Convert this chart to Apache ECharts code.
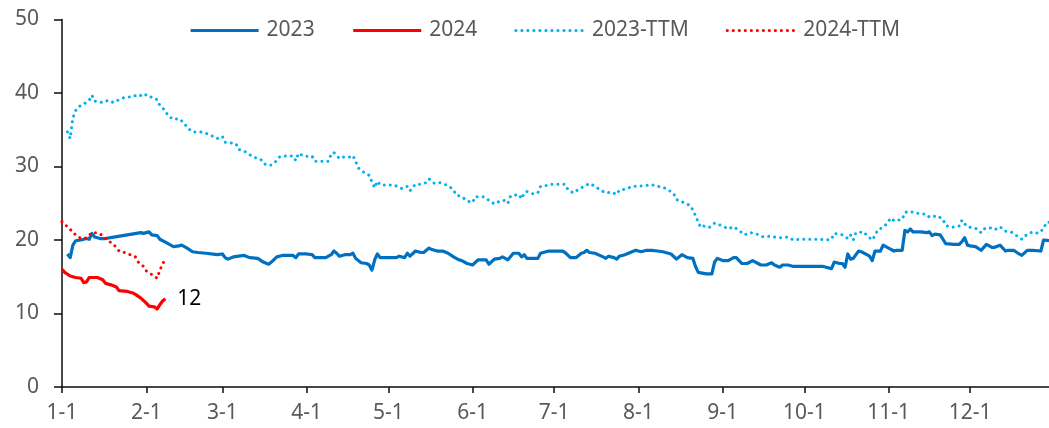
<!DOCTYPE html>
<html>
<head>
<meta charset="utf-8">
<title>PE 2023 vs 2024</title>
<script src="https://cdn.jsdelivr.net/npm/echarts@6/dist/echarts.min.js"></script>
<style>
  html, body { margin: 0; padding: 0; background: #fff; }
  #chart { width: 1049px; height: 428px; }
</style>
</head>
<body>
<div id="chart"></div>
<script>
// Day index counted from Jan 1 (0 = 1-1), value = PE multiple
const monthStarts = [0, 31, 59, 90, 120, 151, 181, 212, 243, 273, 304, 334];
const monthLabels = ['1-1', '2-1', '3-1', '4-1', '5-1', '6-1', '7-1', '8-1', '9-1', '10-1', '11-1', '12-1'];
const yTicks = [0, 10, 20, 30, 40, 50];

const pe2023 = [
  [2,18.1],[3,17.6],[4,19.3],[5,19.9],[7,20.0],[9,20.2],[10,20.1],[11,20.9],[12,20.4],[14,20.2],
  [16,20.2],[19,20.4],[24,20.7],[29,21.0],[30,20.9],[31,21.0],[32,21.1],[33,20.7],[35,20.6],[36,20.1],
  [38,19.7],[40,19.3],[41,19.1],[43,19.2],[44,19.3],[46,18.9],[48,18.4],[50,18.3],[53,18.2],[57,18.0],
  [59,18.1],[60,17.6],[61,17.4],[63,17.7],[65,17.8],[67,17.9],[69,17.6],[72,17.5],[74,17.0],[76,16.7],
  [77,17.0],[79,17.7],[81,17.9],[82,17.9],[85,17.9],[86,17.6],[87,18.1],[90,18.1],[92,18.0],[93,17.6],
  [97,17.6],[99,18.0],[100,18.5],[101,18.2],[102,17.8],[104,18.0],[106,18.0],[107,18.2],[108,17.5],[110,16.9],
  [112,16.8],[113,16.6],[114,15.9],[115,17.3],[116,18.1],[117,17.6],[120,17.6],[123,17.6],[124,17.8],[126,17.6],
  [127,18.2],[128,17.8],[130,18.5],[132,18.3],[133,18.3],[135,18.9],[136,18.7],[138,18.5],[140,18.5],[142,18.2],
  [144,17.7],[146,17.3],[147,17.2],[149,16.8],[151,16.6],[153,17.3],[156,17.3],[157,16.7],[159,17.4],[161,17.5],
  [162,17.7],[164,17.3],[166,18.2],[168,18.2],[169,17.7],[170,18.0],[171,17.5],[175,17.5],[176,18.2],[177,18.3],
  [179,18.5],[182,18.5],[184,18.5],[185,18.3],[187,17.6],[189,17.6],[191,18.2],[192,18.3],[193,18.6],[194,18.3],
  [196,18.2],[199,17.7],[200,17.5],[201,17.8],[203,17.6],[204,17.4],[205,17.8],[207,18.0],[209,18.3],[211,18.6],
  [213,18.4],[215,18.6],[217,18.6],[219,18.5],[221,18.4],[223,18.2],[224,18.1],[226,17.4],[228,18.0],[230,17.6],
  [232,17.5],[233,16.4],[234,15.6],[237,15.4],[239,15.4],[240,17.0],[241,17.5],[243,17.2],[245,17.2],[247,17.6],
  [248,17.6],[250,16.8],[252,16.8],[254,17.2],[257,16.6],[259,16.6],[261,16.9],[262,16.6],[264,16.3],[265,16.6],
  [267,16.6],[269,16.4],[280,16.4],[281,16.3],[283,16.1],[284,17.0],[286,16.8],[287,16.8],[288,16.3],[289,18.1],
  [290,17.4],[291,17.5],[293,18.5],[294,18.4],[296,18.0],[297,17.8],[298,17.2],[299,18.5],[301,18.5],[302,19.3],
  [304,18.9],[306,18.5],[307,18.6],[309,18.6],[310,21.3],[311,21.1],[312,21.5],[313,21.1],[316,21.1],[318,21.0],
  [319,21.1],[320,20.6],[321,20.8],[323,20.7],[324,20.1],[325,19.5],[328,19.4],[330,19.4],[331,19.8],[332,20.3],
  [333,19.3],[334,19.2],[336,19.1],[338,18.6],[340,19.4],[342,19.0],[343,19.0],[345,19.3],[347,18.5],[348,18.6],
  [350,18.6],[352,18.1],[353,17.9],[355,18.6],[357,18.6],[360,18.5],[361,20.0],[363,19.9]
];

const pe2024 = [
  [0,16.0],[1,15.6],[3,15.1],[5,14.9],[7,14.8],[8,14.2],[9,14.3],[10,14.9],[13,14.9],[15,14.6],
  [16,14.1],[18,13.9],[20,13.6],[21,13.1],[24,13.0],[26,12.8],[27,12.6],[29,12.1],[31,11.4],[32,11.0],
  [34,10.9],[35,10.6],[36,11.2],[37,11.7],[38,12.0]
];

const ttm2023 = [
  [2,34.7],[3,33.8],[4,36.6],[5,37.6],[6,38.1],[8,38.5],[10,39.0],[11,39.7],[12,38.9],[15,38.7],
  [17,39.0],[19,38.7],[21,39.1],[23,39.4],[26,39.5],[28,39.8],[30,39.5],[31,39.8],[33,39.4],[35,39.1],
  [36,38.3],[38,37.6],[39,36.9],[41,36.4],[43,36.5],[45,35.9],[46,35.3],[48,34.7],[51,34.7],[53,34.5],
  [55,34.2],[57,33.8],[59,34.1],[60,33.3],[62,33.2],[64,33.1],[65,32.3],[67,32.1],[69,31.6],[71,31.2],
  [73,31.0],[75,30.2],[77,30.2],[79,30.8],[80,31.3],[83,31.5],[85,31.4],[86,30.8],[87,31.8],[89,31.4],
  [92,31.4],[93,30.7],[96,30.7],[98,30.7],[99,31.7],[100,31.9],[102,31.1],[103,31.3],[106,31.3],[107,31.5],
  [108,30.7],[109,29.8],[111,29.2],[113,28.8],[114,27.9],[115,27.1],[116,28.0],[117,27.5],[120,27.5],[122,27.5],
  [125,27.0],[127,27.3],[128,26.7],[130,27.6],[132,27.6],[134,27.8],[135,28.3],[137,27.7],[139,27.8],[142,27.4],
  [144,26.8],[145,26.1],[147,25.9],[149,25.3],[151,25.1],[152,25.9],[155,25.9],[157,25.4],[159,24.9],[161,25.3],
  [163,25.4],[164,25.0],[165,26.0],[168,26.2],[169,25.6],[170,26.4],[171,26.6],[173,26.3],[175,26.4],[176,27.3],
  [178,27.4],[180,27.6],[182,27.6],[185,27.6],[186,26.9],[188,26.4],[190,26.9],[192,27.3],[194,27.7],[196,27.3],
  [198,26.8],[200,26.4],[202,26.5],[204,26.2],[205,26.8],[207,26.9],[210,27.3],[212,27.3],[214,27.4],[217,27.5],
  [219,27.3],[221,27.2],[223,26.8],[225,26.3],[226,25.5],[228,25.2],[231,24.7],[232,24.1],[233,23.3],[234,22.4],
  [235,21.7],[236,21.9],[238,21.7],[240,22.3],[243,21.9],[245,21.5],[247,21.8],[249,21.3],[251,20.7],[253,21.0],
  [255,20.9],[258,20.4],[260,20.5],[262,20.4],[264,20.3],[267,20.4],[269,20.0],[271,20.1],[274,20.1],[276,20.1],
  [279,20.1],[281,20.0],[283,20.1],[284,20.9],[287,20.7],[289,20.2],[290,20.7],[291,20.0],[292,21.0],[295,21.1],
  [296,20.6],[298,20.0],[299,20.6],[300,21.4],[302,21.7],[303,22.1],[304,22.6],[305,23.0],[306,22.6],[309,22.8],
  [310,23.7],[311,23.9],[313,23.8],[315,23.6],[318,23.5],[319,23.1],[322,23.3],[324,22.8],[325,22.0],[327,21.7],
  [330,21.9],[331,22.7],[332,22.2],[333,21.8],[336,21.6],[338,21.0],[339,21.5],[341,21.7],[343,21.4],[345,21.8],
  [347,21.2],[349,21.1],[351,20.6],[353,20.1],[355,20.8],[357,21.1],[359,20.9],[361,21.5],[362,22.4],[363,22.4]
];

const ttm2024 = [
  [0,22.5],[2,21.8],[4,21.1],[5,20.7],[7,20.2],[9,20.3],[11,21.0],[13,21.0],[15,20.6],[17,19.9],
  [19,19.4],[21,18.5],[23,18.3],[25,18.0],[27,17.7],[28,17.0],[30,16.4],[31,15.8],[33,15.3],[35,14.8],
  [36,15.9],[38,17.5]
];

const FONT = '"Noto Sans", "Open Sans", sans-serif';
const AXIS_TEXT = '#595959';
const FS = 21;
const dotted = [0.01, 6];

const chart = echarts.init(document.getElementById('chart'), null, { renderer: 'canvas' });

chart.setOption({
  animation: false,
  backgroundColor: '#ffffff',
  textStyle: { fontFamily: FONT },
  legend: {
    top: 15,
    left: 184,
    itemWidth: 68,
    itemHeight: 14,
    itemGap: 37,
    // legend keys show only the line, no marker
    itemStyle: { opacity: 0 },
    lineStyle: { width: 3.2 },
    textStyle: { fontSize: FS, color: AXIS_TEXT, fontFamily: FONT, padding: [0, 0, 0, 3] },
    data: ['2023', '2024', '2023-TTM', '2024-TTM']
  },
  grid: { left: 62, right: 0, top: 19.5, bottom: 41, containLabel: false },
  xAxis: {
    type: 'value',
    min: 0,
    max: 363,
    splitLine: { show: false },
    axisLine: { show: true, lineStyle: { color: '#0d0d0d', width: 1.5 } },
    axisTick: { show: true, length: 6, customValues: monthStarts, lineStyle: { color: '#0d0d0d', width: 1.5 } },
    axisLabel: {
      customValues: monthStarts,
      margin: 16,
      fontSize: FS,
      color: AXIS_TEXT,
      fontFamily: FONT,
      formatter: v => monthLabels[monthStarts.indexOf(v)]
    }
  },
  yAxis: {
    type: 'value',
    min: yTicks[0],
    max: yTicks[yTicks.length - 1],
    interval: 10,
    splitLine: { show: false },
    axisLine: { show: true, lineStyle: { color: '#0d0d0d', width: 1.5 } },
    axisTick: { show: true, length: 8, lineStyle: { color: '#0d0d0d', width: 1.5 } },
    axisLabel: { margin: 23, fontSize: FS, color: AXIS_TEXT, fontFamily: FONT }
  },
  series: [
    {
      name: '2023', type: 'line', data: pe2023, symbol: 'none', smooth: false,
      lineStyle: { color: '#0070C0', width: 3.2, join: 'round' },
      itemStyle: { color: '#0070C0' }
    },
    {
      name: '2024', type: 'line', data: pe2024, symbol: 'none', smooth: false,
      lineStyle: { color: '#FF0000', width: 3.2, join: 'round' },
      itemStyle: { color: '#FF0000' },
      endLabel: {
        show: true,
        distance: 12,
        color: '#000',
        fontSize: FS,
        fontFamily: FONT,
        formatter: p => String(p.value[1])
      }
    },
    {
      name: '2023-TTM', type: 'line', data: ttm2023, symbol: 'none', smooth: false,
      lineStyle: { color: '#00B0F0', width: 3, type: dotted, cap: 'round' },
      itemStyle: { color: '#00B0F0' }
    },
    {
      name: '2024-TTM', type: 'line', data: ttm2024, symbol: 'none', smooth: false,
      lineStyle: { color: '#FF0000', width: 3, type: dotted, cap: 'round' },
      itemStyle: { color: '#FF0000' }
    }
  ]
});
</script>
</body>
</html>
